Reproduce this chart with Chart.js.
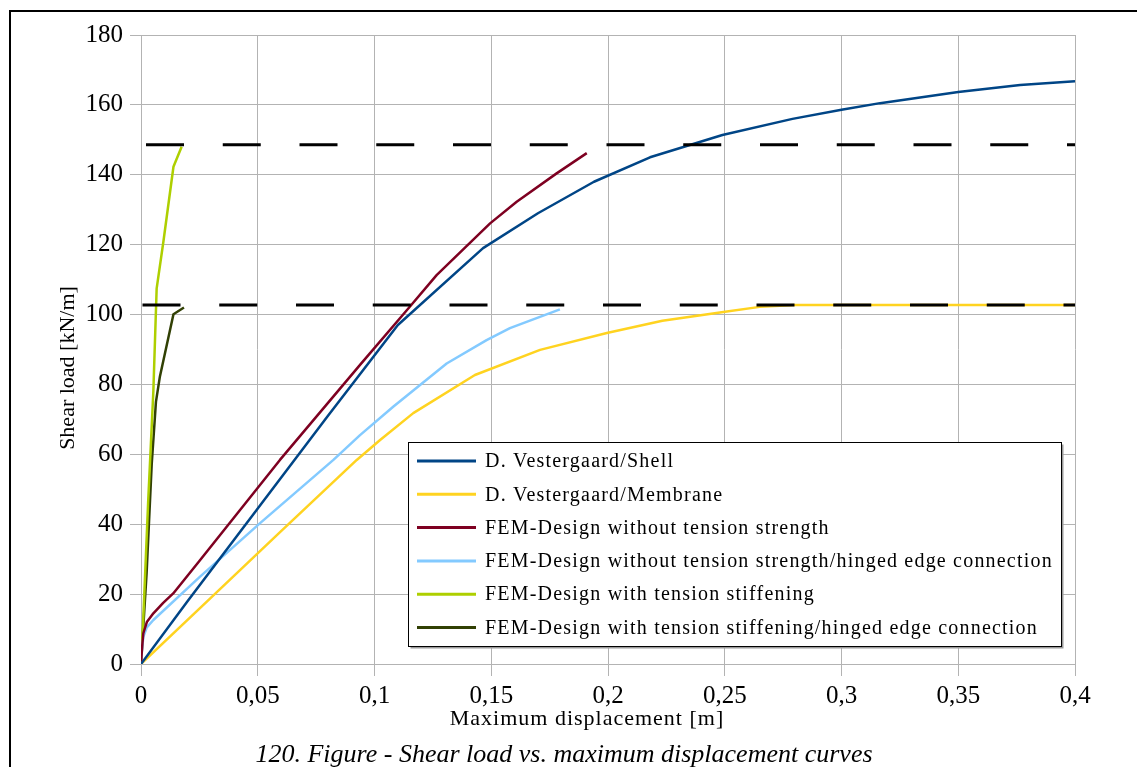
<!DOCTYPE html>
<html>
<head>
<meta charset="utf-8">
<title>Shear load vs. maximum displacement</title>
<script src="https://cdn.jsdelivr.net/npm/chart.js@4.4.1/dist/chart.umd.min.js"></script>
<style>
  html, body { margin: 0; padding: 0; background: #fff; overflow: hidden; }
  #frame {
    position: absolute; left: 9px; top: 10px; width: 1200px; height: 800px;
    border-left: 2px solid #000; border-top: 2px solid #000;
  }
  #wrap { position: absolute; left: 0; top: 0; width: 1137px; height: 767px; }
  #caption {
    position: absolute; left: 0; top: 739px; width: 1128px; text-align: center;
    font: italic 26px "Liberation Serif", "Times New Roman", serif; color: #000;
  }
</style>
</head>
<body>
<div id="frame"></div>
<div id="wrap"><canvas id="shearChart" width="1137" height="767"></canvas></div>
<div id="caption">120. Figure - Shear load vs. maximum displacement curves</div>

<script>
// Curve data: displacement [m] and shear load [kN/m]
const seriesLabels = [
  'D. Vestergaard/Shell',
  'D. Vestergaard/Membrane',
  'FEM-Design without tension strength',
  'FEM-Design without tension strength/hinged edge connection',
  'FEM-Design with tension stiffening',
  'FEM-Design with tension stiffening/hinged edge connection'
];
const seriesColors = ['#004586', '#ffd320', '#7e0021', '#83caff', '#aecf00', '#314004'];

const shellX = [0, 0.02, 0.05, 0.08, 0.11, 0.1465, 0.17, 0.194, 0.218, 0.249, 0.279, 0.3, 0.3165, 0.35, 0.3765, 0.4];
const shellY = [0, 18, 44.5, 71, 97, 119, 129, 138, 145, 151.4, 156, 158.6, 160.5, 163.7, 165.7, 166.8];

const membraneX = [0, 0.03, 0.06, 0.0924, 0.1024, 0.1166, 0.143, 0.1709, 0.1995, 0.2233, 0.2494, 0.265, 0.28, 0.4];
const membraneY = [0, 19, 38, 58.4, 64.1, 71.8, 82.7, 89.9, 94.7, 98.2, 100.7, 102.2, 102.7, 102.7];

const noTensionX = [0, 0.0005, 0.001, 0.0025, 0.0053, 0.0095, 0.0138, 0.025, 0.0367, 0.0595, 0.0938, 0.1152, 0.1266, 0.1495, 0.1609, 0.178, 0.1909];
const noTensionY = [0, 5, 8.8, 12, 14.5, 17.5, 20.2, 29.5, 39.3, 58.4, 85.6, 102.3, 111.3, 126.1, 132.3, 140.4, 146.2];

const noTensionHingedX = [0, 0.0005, 0.001, 0.0025, 0.0053, 0.0253, 0.051, 0.0824, 0.0938, 0.108, 0.1309, 0.148, 0.158, 0.1794];
const noTensionHingedY = [0, 4.5, 7.8, 10.5, 12.6, 25, 40.3, 58.4, 65.5, 73.6, 86, 92.7, 96.1, 101.5];

const stiffeningX = [0, 0.001, 0.0031, 0.0053, 0.0067, 0.0096, 0.0139, 0.0174];
const stiffeningY = [0, 13.5, 46.9, 78.2, 107.4, 120.9, 142.3, 148];

const stiffeningHingedX = [0, 0.0024, 0.0046, 0.0064, 0.0081, 0.0139, 0.0184];
const stiffeningHingedY = [0, 26, 57.3, 75, 82.3, 100.1, 102];

// Horizontal reference load levels (dashed)
const refLoads = [148.6, 102.7];
const refRange = [0, 0.4];

const xTickLabels = ['0', '0,05', '0,1', '0,15', '0,2', '0,25', '0,3', '0,35', '0,4'];
const yTickLabels = ['0', '20', '40', '60', '80', '100', '120', '140', '160', '180'];

const xTitle = 'Maximum displacement [m]';
const yTitle = 'Shear load [kN/m]';

const serif = '"Liberation Serif", "Times New Roman", serif';

function toPoints(xs, ys) {
  return xs.map((x, i) => ({ x: x, y: ys[i] }));
}

const curveData = [
  toPoints(shellX, shellY),
  toPoints(membraneX, membraneY),
  toPoints(noTensionX, noTensionY),
  toPoints(noTensionHingedX, noTensionHingedY),
  toPoints(stiffeningX, stiffeningY),
  toPoints(stiffeningHingedX, stiffeningHingedY)
];

// dashed lines first so they are painted above the curves
const refDatasets = refLoads.map((load, i) => ({
  label: '',
  data: refRange.map(x => ({ x: x, y: load })),
  borderColor: '#000',
  borderWidth: 3,
  borderDash: [38, 38.75],
  borderDashOffset: i === 0 ? 71.75 : 75.25
}));

const curveDatasets = curveData.map((pts, i) => ({
  label: seriesLabels[i],
  data: pts,
  borderColor: seriesColors[i],
  borderWidth: 2.5
}));

// axis titles and the boxed legend
const overlayPlugin = {
  id: 'overlay',
  afterDraw(chart) {
    const ctx = chart.ctx;
    ctx.save();
    ctx.fillStyle = '#000';
    ctx.textBaseline = 'middle';
    ctx.textAlign = 'center';
    ctx.font = '22px ' + serif;
    ctx.letterSpacing = '1px';
    ctx.fillText(xTitle, 587, 719);

    ctx.save();
    ctx.translate(68, 368);
    ctx.rotate(-Math.PI / 2);
    ctx.letterSpacing = '0px';
    ctx.fillText(yTitle, 0, 0);
    ctx.restore();

    // legend box with a small shadow
    const box = { x: 408.5, y: 442.5, w: 653, h: 204 };
    ctx.fillStyle = '#9a9a9a';
    ctx.fillRect(box.x + 2, box.y + 2, box.w, box.h);
    ctx.fillStyle = '#fff';
    ctx.fillRect(box.x, box.y, box.w, box.h);
    ctx.strokeStyle = '#000';
    ctx.lineWidth = 1;
    ctx.strokeRect(box.x, box.y, box.w, box.h);

    ctx.textAlign = 'left';
    ctx.font = '20px ' + serif;
    ctx.letterSpacing = '1.2px';
    const entries = chart.data.datasets.filter(ds => ds.label);
    entries.forEach((ds, i) => {
      const y = 461 + i * 33.3;
      ctx.strokeStyle = ds.borderColor;
      ctx.lineWidth = 3;
      ctx.beginPath();
      ctx.moveTo(417, y);
      ctx.lineTo(476, y);
      ctx.stroke();
      ctx.fillStyle = '#000';
      ctx.fillText(ds.label, 485, y + 1);
    });
    ctx.restore();
  }
};

const ctxShear = document.getElementById('shearChart').getContext('2d');
const shearChart = new Chart(ctxShear, {
  type: 'line',
  data: {
    datasets: refDatasets.concat(curveDatasets)
  },
  options: {
    responsive: false,
    animation: false,
    layout: { padding: { left: 0, top: 35, right: 62, bottom: 0 } },
    elements: {
      point: { radius: 0, hoverRadius: 0 },
      line: { tension: 0, borderCapStyle: 'butt', borderJoinStyle: 'round' }
    },
    plugins: {
      legend: { display: false },
      tooltip: { enabled: false }
    },
    scales: {
      x: {
        type: 'linear',
        min: 0,
        max: 0.4,
        ticks: {
          stepSize: 0.05,
          autoSkip: false,
          maxRotation: 0,
          padding: 5,
          color: '#000',
          font: { family: serif, size: 25 },
          callback: (value, index) => xTickLabels[index]
        },
        grid: { color: '#b3b3b3', lineWidth: 1, tickLength: 12 },
        border: { color: '#b3b3b3', width: 1 },
        afterFit(scale) { scale.height = 103; }
      },
      y: {
        type: 'linear',
        min: 0,
        max: 180,
        ticks: {
          stepSize: 20,
          padding: 7,
          color: '#000',
          font: { family: serif, size: 25 },
          callback: (value, index) => yTickLabels[index]
        },
        grid: { color: '#b3b3b3', lineWidth: 1, tickLength: 11 },
        border: { color: '#b3b3b3', width: 1 },
        afterFit(scale) { scale.width = 141; }
      }
    }
  },
  plugins: [overlayPlugin]
});
</script>
</body>
</html>
